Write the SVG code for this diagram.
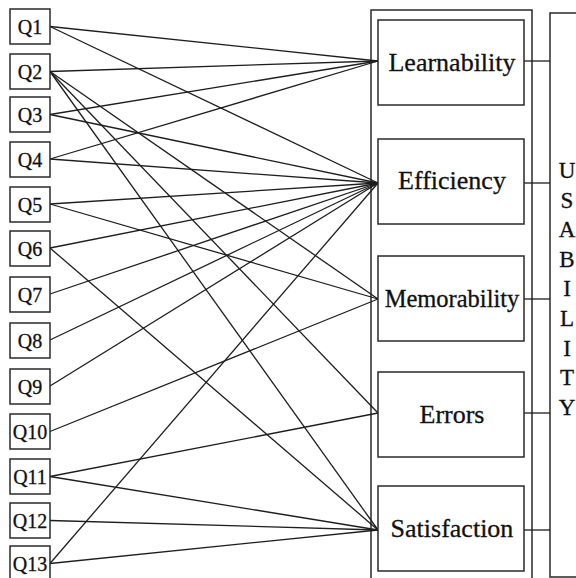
<svg xmlns="http://www.w3.org/2000/svg" width="576" height="578" viewBox="0 0 576 578">
<style>
.box{fill:#fff;stroke:#2a2a2a;stroke-width:1.5}
.frame{fill:none;stroke:#2a2a2a;stroke-width:1.5}
text{font-family:'Liberation Serif','DejaVu Serif','Times New Roman',serif;fill:#111;text-anchor:middle;stroke:#111;stroke-width:0.3}
.q{font-size:20px}
.lbl{font-size:26px}
.u{font-size:23px}
.c line{stroke:#1e1e1e;stroke-width:1.3}
</style>
<rect width="576" height="578" fill="#fff"/>
<rect class="frame" x="371" y="10" width="161" height="580"/>
<g id="usability">
<rect class="frame" x="550" y="13" width="40" height="564"/>
<text class="u" x="567" y="178">U</text>
<text class="u" x="567" y="207.6">S</text>
<text class="u" x="567" y="237.2">A</text>
<text class="u" x="567" y="266.8">B</text>
<text class="u" x="567" y="296.4">I</text>
<text class="u" x="567" y="326">L</text>
<text class="u" x="567" y="355.6">I</text>
<text class="u" x="567" y="385.2">T</text>
<text class="u" x="567" y="414.8">Y</text>
</g>
<g class="c" id="connectors">
<line x1="50" y1="26.5" x2="378" y2="61"/>
<line x1="50" y1="26.5" x2="378" y2="183"/>
<line x1="50" y1="71.5" x2="378" y2="61"/>
<line x1="50" y1="71.5" x2="378" y2="299"/>
<line x1="50" y1="71.5" x2="378" y2="413"/>
<line x1="50" y1="71.5" x2="378" y2="530"/>
<line x1="50" y1="114.5" x2="378" y2="61"/>
<line x1="50" y1="114.5" x2="378" y2="183"/>
<line x1="50" y1="159" x2="378" y2="61"/>
<line x1="50" y1="159" x2="378" y2="183"/>
<line x1="50" y1="204" x2="378" y2="183"/>
<line x1="50" y1="204" x2="378" y2="299"/>
<line x1="50" y1="248" x2="378" y2="183"/>
<line x1="50" y1="248" x2="378" y2="530"/>
<line x1="50" y1="294" x2="378" y2="183"/>
<line x1="50" y1="340" x2="378" y2="183"/>
<line x1="50" y1="386" x2="378" y2="183"/>
<line x1="50" y1="431.5" x2="378" y2="299"/>
<line x1="50" y1="476.5" x2="378" y2="413"/>
<line x1="50" y1="476.5" x2="378" y2="530"/>
<line x1="50" y1="520.5" x2="378" y2="530"/>
<line x1="50" y1="563.5" x2="378" y2="183"/>
<line x1="50" y1="563.5" x2="378" y2="530"/>
<line x1="524" y1="61" x2="550" y2="61"/>
<line x1="524" y1="183" x2="550" y2="183"/>
<line x1="524" y1="299" x2="550" y2="299"/>
<line x1="524" y1="413" x2="550" y2="413"/>
<line x1="524" y1="530" x2="550" y2="530"/>
</g>
<g id="q1"><rect class="box" x="10" y="9" width="40" height="35"/><text class="q" x="30" y="33.5">Q1</text></g>
<g id="q2"><rect class="box" x="10" y="54" width="40" height="35"/><text class="q" x="30" y="78.5">Q2</text></g>
<g id="q3"><rect class="box" x="10" y="97" width="40" height="35"/><text class="q" x="30" y="121.5">Q3</text></g>
<g id="q4"><rect class="box" x="10" y="142" width="40" height="35"/><text class="q" x="30" y="166.5">Q4</text></g>
<g id="q5"><rect class="box" x="10" y="187" width="40" height="35"/><text class="q" x="30" y="211.5">Q5</text></g>
<g id="q6"><rect class="box" x="10" y="231" width="40" height="35"/><text class="q" x="30" y="255.5">Q6</text></g>
<g id="q7"><rect class="box" x="10" y="277" width="40" height="35"/><text class="q" x="30" y="301.5">Q7</text></g>
<g id="q8"><rect class="box" x="10" y="323" width="40" height="35"/><text class="q" x="30" y="347.5">Q8</text></g>
<g id="q9"><rect class="box" x="10" y="369" width="40" height="35"/><text class="q" x="30" y="393.5">Q9</text></g>
<g id="q10"><rect class="box" x="10" y="414" width="40" height="35"/><text class="q" x="30" y="438.5">Q10</text></g>
<g id="q11"><rect class="box" x="10" y="459" width="40" height="35"/><text class="q" x="30" y="483.5">Q11</text></g>
<g id="q12"><rect class="box" x="10" y="503" width="40" height="35"/><text class="q" x="30" y="527.5">Q12</text></g>
<g id="q13"><rect class="box" x="10" y="546" width="40" height="35"/><text class="q" x="30" y="570.5">Q13</text></g>
<g id="learnability"><rect class="box" x="378" y="20" width="146" height="85"/><text class="lbl" x="452" y="70.5">Learnability</text></g>
<g id="efficiency"><rect class="box" x="378" y="139" width="146" height="85"/><text class="lbl" x="452" y="189">Efficiency</text></g>
<g id="memorability"><rect class="box" x="378" y="256" width="146" height="85"/><text class="lbl" x="452" y="307" style="font-size:24.5px">Memorability</text></g>
<g id="errors"><rect class="box" x="378" y="372" width="146" height="85"/><text class="lbl" x="452" y="423">Errors</text></g>
<g id="satisfaction"><rect class="box" x="378" y="486" width="146" height="85"/><text class="lbl" x="452" y="537">Satisfaction</text></g>
</svg>
